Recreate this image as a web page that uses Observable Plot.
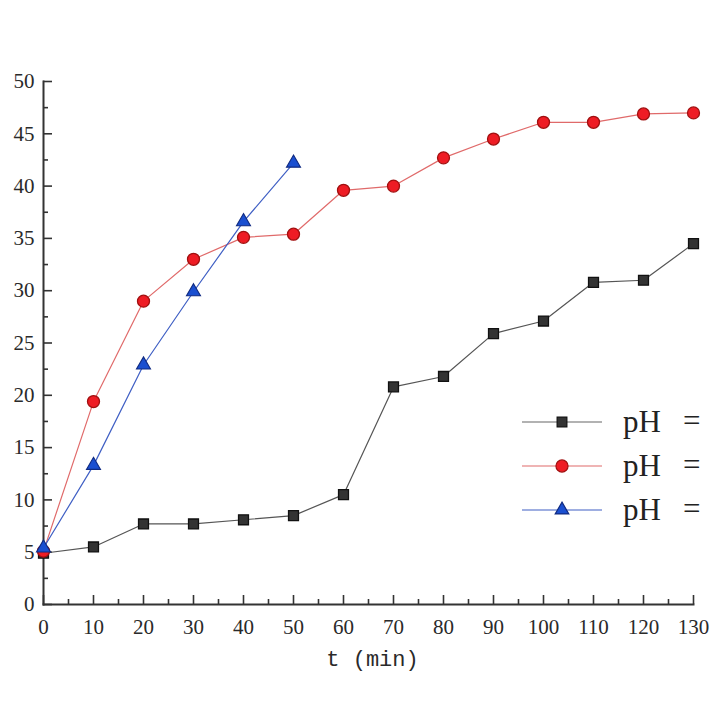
<!DOCTYPE html>
<html>
<head>
<meta charset="utf-8">
<script src="https://cdn.jsdelivr.net/npm/d3@7"></script>
<script src="https://cdn.jsdelivr.net/npm/@observablehq/plot@0.6"></script>
<style>
  html, body { margin: 0; padding: 0; background: #fff; }
  #wrap { position: relative; width: 720px; height: 720px; overflow: hidden; }
  #legend { position: absolute; left: 0; top: 0; }
</style>
</head>
<body>
<div id="wrap"></div>
<script>
const times = [0, 10, 20, 30, 40, 50, 60, 70, 80, 90, 100, 110, 120, 130];
const blackValues = [4.9, 5.5, 7.7, 7.7, 8.1, 8.5, 10.5, 20.8, 21.8, 25.9, 27.1, 30.8, 31.0, 34.5];
const redValues = [5.1, 19.4, 29.0, 33.0, 35.1, 35.4, 39.6, 40.0, 42.7, 44.5, 46.1, 46.1, 46.9, 47.0];
const blueTimes = [0, 10, 20, 30, 40, 50];
const blueValues = [5.4, 13.3, 22.9, 29.9, 36.6, 42.2];
const xTicks = d3.range(0, 131, 10);
const xMinor = d3.range(5, 130, 10);
const yTicks = d3.range(0, 51, 5);
const yMinor = d3.range(2.5, 50, 5);
const legendLabels = ["pH", "pH", "pH"];

const black = times.map((t, i) => ({t, v: blackValues[i]}));
const red = times.map((t, i) => ({t, v: redValues[i]}));
const blue = blueTimes.map((t, i) => ({t, v: blueValues[i]}));

const font = "'Liberation Serif', 'DejaVu Serif', serif";
const mono = "'Liberation Mono', 'DejaVu Sans Mono', monospace";
const axisColor = "#333";

const chart = Plot.plot({
  width: 720,
  height: 720,
  marginLeft: 43,
  marginRight: 27,
  marginTop: 81,
  marginBottom: 116,
  style: {fontFamily: font, fontSize: "21px", color: "#333", background: "#fff", overflow: "visible"},
  x: {domain: [0, 130], label: null},
  y: {domain: [0, 50], label: null},
  marks: [
    Plot.axisX({ticks: xTicks, tickSize: -9, text: null, stroke: axisColor, strokeWidth: 1.6}),
    Plot.axisX({ticks: xMinor, tickSize: -5, text: null, stroke: axisColor, strokeWidth: 1.6}),
    Plot.axisX({ticks: xTicks, tickSize: 0, tickPadding: 15, tickFormat: d3.format("d"), fill: "#2a2a2a", fontSize: 21}),
    Plot.axisY({ticks: yTicks, tickSize: -9, text: null, stroke: axisColor, strokeWidth: 1.6}),
    Plot.axisY({ticks: yMinor, tickSize: -5, text: null, stroke: axisColor, strokeWidth: 1.6}),
    Plot.axisY({ticks: yTicks, tickSize: 0, tickPadding: 9, tickFormat: d3.format("d"), fill: "#2a2a2a", fontSize: 21}),
    Plot.frame({anchor: "left", stroke: axisColor, strokeWidth: 2}),
    Plot.frame({anchor: "bottom", stroke: axisColor, strokeWidth: 2}),
    Plot.text(["t (min)"], {frameAnchor: "bottom", dx: 4, dy: 61, fontSize: 22, fill: "#2a2a2a", fontFamily: mono}),
    Plot.line(black, {x: "t", y: "v", stroke: "#555", strokeWidth: 1.2}),
    Plot.line(red, {x: "t", y: "v", stroke: "#e06a6a", strokeWidth: 1.2}),
    Plot.line(blue, {x: "t", y: "v", stroke: "#3f5fc4", strokeWidth: 1.2}),
    Plot.dot(black, {x: "t", y: "v", symbol: "square", r: 5.6, fill: "#333", stroke: "#111", strokeWidth: 1.3}),
    Plot.dot(red, {x: "t", y: "v", symbol: "circle", r: 6, fill: "#ee1c24", stroke: "#a01010", strokeWidth: 1.3}),
    Plot.dot(blue, {x: "t", y: "v", symbol: "triangle", r: 5.2, fill: "#1a4fd0", stroke: "#102a80", strokeWidth: 1.1})
  ]
});

// make sure tick labels use the serif face at the intended size
d3.select(chart).selectAll("g[aria-label$='tick label']")
  .attr("font-family", font).attr("font-size", 21)
  .selectAll("text").style("font-family", font).style("font-size", "21px");

const wrap = document.getElementById("wrap");
wrap.appendChild(chart);

const lg = d3.select(wrap).append("svg")
  .attr("id", "legend")
  .attr("width", 720).attr("height", 720);
const legendStyles = [
  {line: "#666", fill: "#333", stroke: "#111", sym: d3.symbolSquare, size: 95},
  {line: "#e06a6a", fill: "#ee1c24", stroke: "#a01010", sym: d3.symbolCircle, size: 115},
  {line: "#3f5fc4", fill: "#1a4fd0", stroke: "#102a80", sym: d3.symbolTriangle, size: 80}
];
legendLabels.forEach((lab, i) => {
  const y = 422 + i * 44;
  const s = legendStyles[i];
  lg.append("line").attr("x1", 522).attr("x2", 602).attr("y1", y).attr("y2", y)
    .attr("stroke", s.line).attr("stroke-width", 1.2);
  lg.append("path").attr("d", d3.symbol(s.sym, s.size)())
    .attr("transform", `translate(562,${y})`)
    .attr("fill", s.fill).attr("stroke", s.stroke).attr("stroke-width", 1.2);
  lg.append("text").attr("x", 623).attr("y", y + 10).text(lab)
    .attr("font-family", font).attr("font-size", 31).attr("fill", "#222");
  lg.append("text").attr("x", 683).attr("y", y + 9).text("=")
    .attr("font-family", font).attr("font-size", 31).attr("fill", "#222");
});
</script>
</body>
</html>
